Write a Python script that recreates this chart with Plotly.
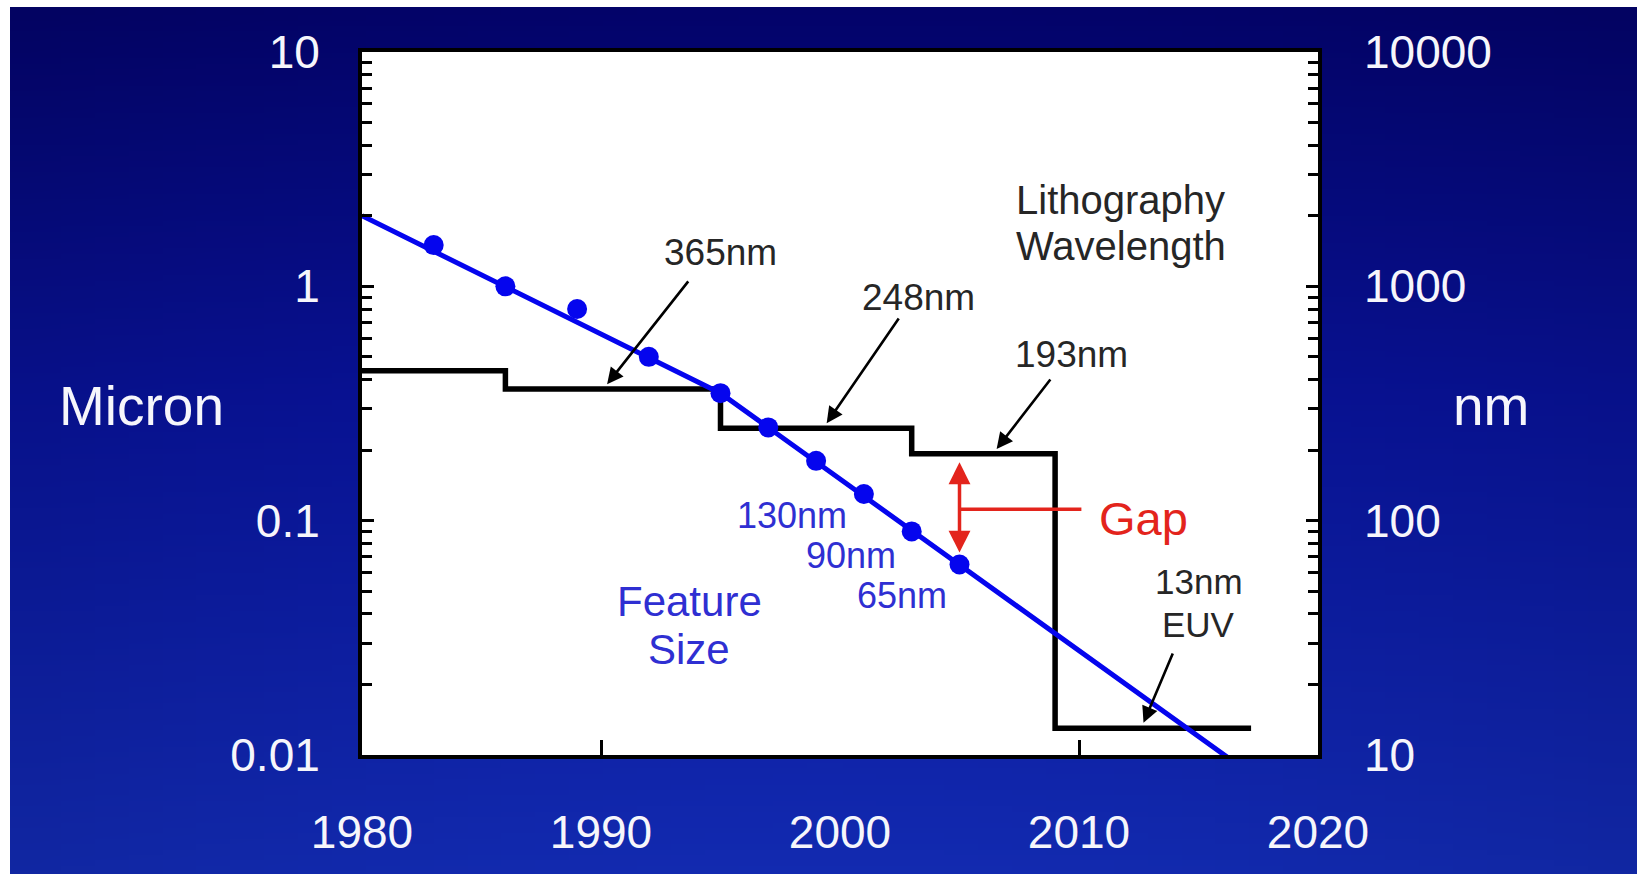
import base64
import math
import struct
import zlib

import plotly.graph_objects as go

# ---------------------------------------------------------------- data
# Minimum feature size by year (micron)
feature_years = [1983, 1986, 1989, 1992, 1995, 1997, 1999, 2001, 2003, 2005]
feature_um = [1.5, 1.0, 0.8, 0.5, 0.35, 0.25, 0.18, 0.13, 0.09, 0.065]

# Trend line drawn through the feature sizes (micron)
trend_years = [1980, 1995, 2016.2]
trend_um = [2.0, 0.35, 0.0098]

# Lithography wavelength, held from each start year to the next (micron)
litho_years = [1980, 1986, 1995, 2003, 2009, 2017.2]
litho_um = [0.436, 0.365, 0.248, 0.193, 0.013, 0.013]

# Wavelength call-outs: label, label position, arrow tail, arrow tip
litho_labels = ["365nm", "248nm", "193nm"]
litho_label_x = [1995.0, 2003.3, 2009.7]
litho_label_y = [1.39, 0.90, 0.51]
litho_tail_x = [1993.7, 2002.5, 2008.85]
litho_tail_y = [1.065, 0.74, 0.406]
litho_tip_x = [1990.1, 1999.3, 2006.4]
litho_tip_um = [0.365, 0.248, 0.193]

litho_title = ["Lithography", "Wavelength"]
litho_title_x = 2011.75
litho_title_y = [2.33, 1.49]

euv_label = ["13nm", "EUV"]
euv_label_x = 2015.0
euv_label_y = [0.0552, 0.0362]
euv_tail = (2013.95, 0.0275)
euv_tip = (2012.6, 0.013)

node_labels = ["130nm", "90nm", "65nm"]
node_label_x = [1998.0, 2000.45, 2002.6]
node_label_y = [0.1047, 0.0713, 0.0479]

feature_label = ["Feature", "Size"]
feature_label_x = 1993.7
feature_label_y = [0.0450, 0.0281]

gap_year = 2005
gap_top_um = 0.193
gap_bottom_um = 0.065
gap_label_x = 2010.1
gap_text_x = 2012.7
gap_text_um = 0.102

x_ticks = [1980, 1990, 2000, 2010, 2020]
x_marks = [1990, 2010]
y_ticks = [0.01, 0.1, 1, 10]
y_ticktext = ["0.01", "0.1", "1", "10"]
nm_ticks = [10, 100, 1000, 10000]
nm_ticktext = ["10", "100", "1000", "10000"]

# ---------------------------------------------------------------- styling
W, H = 1637, 874
FONT = "Liberation Sans, Arial, Helvetica, sans-serif"
BLUE = "#0505ee"
BLUE_TXT = "#2f2fd2"
RED = "#e3241c"
INK = "#262626"

X0, X1, Y0, Y1 = 362, 1318, 52, 755  # plot frame in pixels


def gradient_png(w=48, h=160):
    """Vertical navy-to-blue backdrop as an inline PNG."""
    stops = [(0.0, (3, 3, 106)), (0.45, (8, 18, 150)), (1.0, (18, 42, 176))]
    rows = []
    for j in range(h):
        t = j / (h - 1)
        for k in range(len(stops) - 1):
            if stops[k][0] <= t <= stops[k + 1][0]:
                a, ca = stops[k]
                b, cb = stops[k + 1]
                f = (t - a) / (b - a)
                break
        row = bytearray([0])
        for i in range(w):
            s = abs(i / (w - 1) - 0.5) * 2
            dim = 1.0 - 0.08 * s * s
            c = [int(round((ca[n] + (cb[n] - ca[n]) * f) * dim)) for n in range(3)]
            row += bytes(c)
        rows.append(bytes(row))
    raw = b"".join(rows)

    def chunk(tag, data):
        return (struct.pack(">I", len(data)) + tag + data
                + struct.pack(">I", zlib.crc32(tag + data) & 0xFFFFFFFF))

    png = (b"\x89PNG\r\n\x1a\n"
           + chunk(b"IHDR", struct.pack(">IIBBBBB", w, h, 8, 2, 0, 0, 0))
           + chunk(b"IDAT", zlib.compress(raw, 9))
           + chunk(b"IEND", b""))
    return "data:image/png;base64," + base64.b64encode(png).decode()


L = math.log10

fig = go.Figure()

# Lithography wavelength steps
fig.add_trace(go.Scatter(
    x=litho_years, y=litho_um, mode="lines",
    line=dict(color="black", width=5.5, shape="hv"),
    hoverinfo="skip", showlegend=False))

# Red gap bar (horizontal leader to the label)
gap_mid = math.sqrt(gap_top_um * gap_bottom_um)
fig.add_trace(go.Scatter(
    x=[gap_year, gap_label_x], y=[gap_mid, gap_mid], mode="lines",
    line=dict(color=RED, width=3.5),
    hoverinfo="skip", showlegend=False))

# Feature-size trend line and points
fig.add_trace(go.Scatter(
    x=trend_years, y=trend_um, mode="lines",
    line=dict(color=BLUE, width=5),
    hoverinfo="skip", showlegend=False))
fig.add_trace(go.Scatter(
    x=feature_years, y=feature_um, mode="markers",
    marker=dict(color=BLUE, size=20),
    hoverinfo="skip", showlegend=False))

# binds the right-hand nm axis
fig.add_trace(go.Scatter(x=[], y=[], yaxis="y2", showlegend=False,
                         hoverinfo="skip"))

ann = []


def text(x, y, s, color, size):
    ann.append(dict(x=x, y=L(y), xref="x", yref="y", text=s,
                    showarrow=False, xanchor="center", yanchor="middle",
                    font=dict(family=FONT, size=size, color=color)))


def arrow(tip_x, tip_y, tail_x, tail_y, color="black", width=2.6,
          both=False, standoff=5, startstandoff=0):
    ann.append(dict(x=tip_x, y=L(tip_y), ax=tail_x, ay=L(tail_y),
                    xref="x", yref="y", axref="x", ayref="y", text="",
                    showarrow=True, arrowhead=2, arrowsize=1.25,
                    arrowwidth=width, arrowcolor=color,
                    arrowside="end+start" if both else "end",
                    standoff=standoff, startstandoff=startstandoff))


for s, lx, ly, tx, ty, px, pu in zip(litho_labels, litho_label_x,
                                     litho_label_y, litho_tail_x,
                                     litho_tail_y, litho_tip_x, litho_tip_um):
    text(lx, ly, s, INK, 37)
    arrow(px, pu, tx, ty, standoff=6)

for s, y in zip(litho_title, litho_title_y):
    text(litho_title_x, y, s, INK, 40)

for s, y in zip(euv_label, euv_label_y):
    text(euv_label_x, y, s, INK, 35)
arrow(euv_tip[0], euv_tip[1], euv_tail[0], euv_tail[1], standoff=6)

for s, x, y in zip(node_labels, node_label_x, node_label_y):
    text(x, y, s, BLUE_TXT, 36)
for s, y in zip(feature_label, feature_label_y):
    text(feature_label_x, y, s, BLUE_TXT, 42)

# Gap: double-headed arrow between wavelength and feature size
arrow(gap_year, gap_bottom_um, gap_year, gap_top_um, color=RED, width=3.5,
      both=True, standoff=12, startstandoff=7)
text(gap_text_x, gap_text_um, "Gap", RED, 47)

# Axis titles
for s, px in (("Micron", 141), ("nm", 1491)):
    ann.append(dict(x=px / W, y=1 - 406 / H, xref="paper", yref="paper",
                    text=s, showarrow=False, xanchor="center",
                    yanchor="middle",
                    font=dict(family=FONT, size=55, color="#f6f6fb")))

minor_y = [m * 10 ** e for e in range(-2, 1) for m in range(2, 10)]
tickfont = dict(family=FONT, size=46, color="#f6f6fb")

fig.update_layout(
    width=W, height=H, autosize=False,
    margin=dict(l=0, r=0, t=0, b=0, pad=0, autoexpand=False),
    paper_bgcolor="white", plot_bgcolor="white",
    showlegend=False,
    annotations=ann,
    # white plot area drawn above the backdrop image
    shapes=[dict(type="rect", xref="x domain", yref="y domain",
                 x0=0, x1=1, y0=0, y1=1, fillcolor="white",
                 line=dict(width=0), layer="below")],
    images=[dict(source=gradient_png(), xref="paper", yref="paper",
                 x=10 / W, y=1 - 7 / H, sizex=1 - 10 / W, sizey=1 - 7 / H,
                 xanchor="left", yanchor="top", sizing="stretch",
                 layer="below")],
    xaxis=dict(
        domain=[X0 / W, X1 / W], range=[1980, 2020], anchor="y",
        automargin=False,
        tickvals=x_ticks, ticktext=[str(v) for v in x_ticks],
        ticks="", tickfont=tickfont, ticklabelstandoff=34,
        minor=dict(tickvals=x_marks, ticks="inside", ticklen=15,
                   tickwidth=3, tickcolor="black", showgrid=False),
        showline=True, linecolor="black", linewidth=4, mirror=True,
        showgrid=False, zeroline=False, fixedrange=True),
    yaxis=dict(
        domain=[1 - Y1 / H, 1 - Y0 / H], type="log", range=[-2, 1],
        anchor="x", automargin=False,
        tickvals=y_ticks, ticktext=y_ticktext,
        ticks="inside", ticklen=12, tickwidth=3, tickcolor="black",
        minor=dict(tickvals=minor_y, ticks="inside", ticklen=10,
                   tickwidth=3, tickcolor="black", showgrid=False),
        tickfont=tickfont, ticklabelstandoff=29,
        showline=True, linecolor="black", linewidth=4, mirror="allticks",
        showgrid=False, zeroline=False, fixedrange=True),
    yaxis2=dict(
        overlaying="y", side="right", anchor="x", type="log",
        automargin=False,
        range=[1, 4], tickvals=nm_ticks, ticktext=nm_ticktext,
        ticks="", tickfont=tickfont, ticklabelstandoff=45,
        showline=False, showgrid=False, zeroline=False, fixedrange=True),
)

fig.write_html("out.html")
